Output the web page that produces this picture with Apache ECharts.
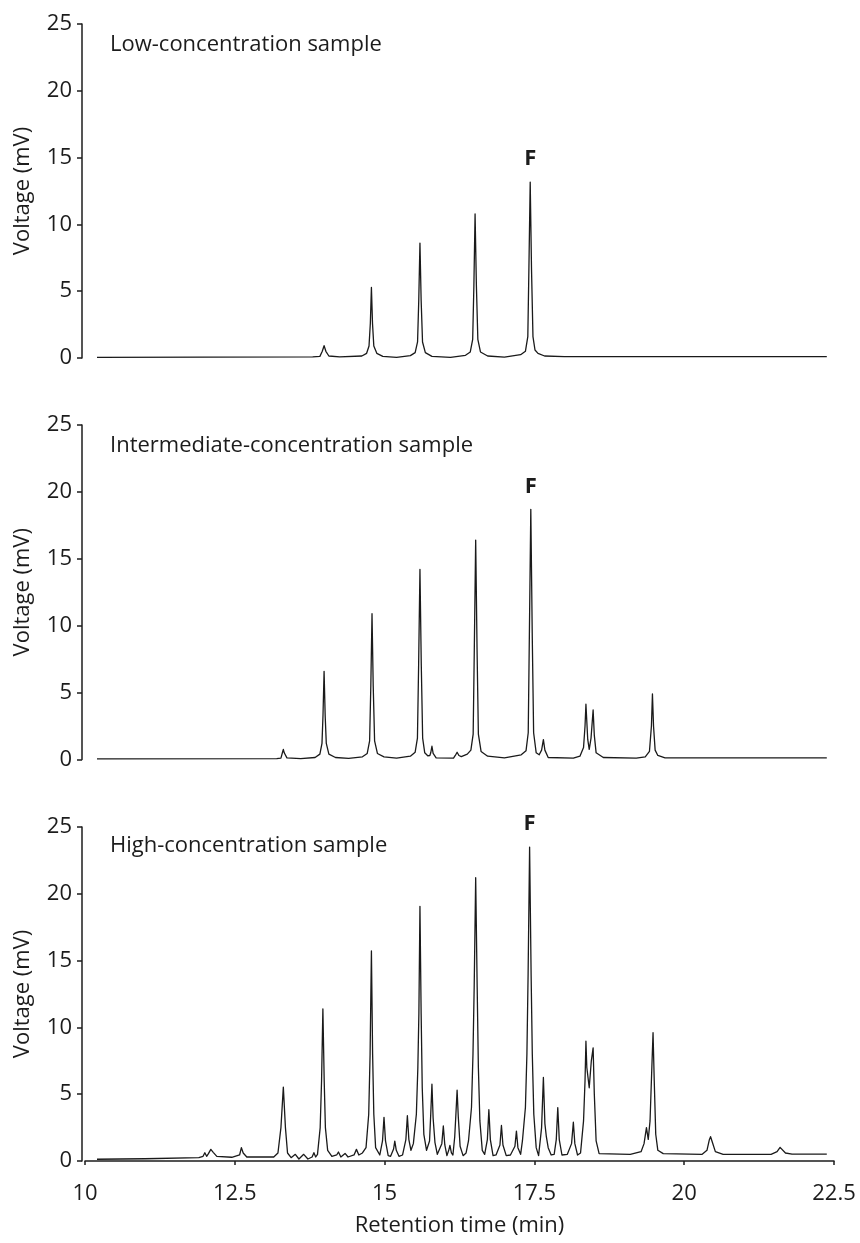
<!DOCTYPE html>
<html>
<head>
<meta charset="utf-8">
<script src="https://cdn.jsdelivr.net/npm/echarts@6/dist/echarts.min.js"></script>
<style>
  html, body { margin: 0; padding: 0; background: #fff; }
  #chart { width: 860px; height: 1243px; }
</style>
</head>
<body>
<div id="chart"></div>
<script>
// panel titles, top to bottom
const panelTitles = [
  'Low-concentration sample',
  'Intermediate-concentration sample',
  'High-concentration sample'
]

// chromatogram traces, [retention time (min), voltage (mV)]
const lowConc = [
  [10.2, 0.05], [12.0, 0.06], [13.8, 0.08],
  [13.92, 0.12], [13.96, 0.5], [13.99, 0.92], [14.02, 0.5], [14.07, 0.15], [14.25, 0.08],
  [14.62, 0.15], [14.7, 0.35], [14.74, 0.9], [14.762, 2.6], [14.78, 5.28], [14.798, 2.6], [14.82, 0.9], [14.87, 0.35], [14.97, 0.12], [15.2, 0.04],
  [15.43, 0.18], [15.51, 0.4], [15.55, 1.2], [15.57, 4.3], [15.59, 8.6], [15.61, 4.3], [15.633, 1.2], [15.68, 0.4], [15.79, 0.12], [16.1, 0.04],
  [16.35, 0.2], [16.43, 0.45], [16.47, 1.4], [16.49, 5.4], [16.51, 10.78], [16.532, 5.4], [16.556, 1.4], [16.6, 0.45], [16.72, 0.15], [17.0, 0.06],
  [17.27, 0.25], [17.35, 0.5], [17.39, 1.6], [17.408, 6.6], [17.43, 13.17], [17.452, 6.6], [17.476, 1.6], [17.51, 0.6], [17.56, 0.35], [17.67, 0.15],
  [18.0, 0.1], [20.0, 0.1], [22.38, 0.1]
]

const midConc = [
  [10.2, 0.05], [13.2, 0.07],
  [13.27, 0.1], [13.3, 0.6], [13.31, 0.75], [13.325, 0.5], [13.37, 0.12], [13.6, 0.07],
  [13.84, 0.15], [13.92, 0.4], [13.955, 1.2], [13.972, 3.3], [13.99, 6.59], [14.008, 3.3], [14.027, 1.2], [14.07, 0.4], [14.18, 0.15], [14.4, 0.08],
  [14.63, 0.2], [14.71, 0.45], [14.75, 1.4], [14.77, 5.5], [14.79, 10.9], [14.81, 5.5], [14.833, 1.4], [14.88, 0.45], [14.99, 0.2], [15.2, 0.1],
  [15.43, 0.25], [15.51, 0.55], [15.548, 1.6], [15.568, 7.1], [15.59, 14.2], [15.612, 7.1], [15.635, 1.6], [15.67, 0.5], [15.72, 0.28], [15.755, 0.3],
  [15.77, 0.5], [15.79, 0.99], [15.81, 0.45], [15.86, 0.12], [16.15, 0.1],
  [16.18, 0.3], [16.21, 0.54], [16.24, 0.3], [16.28, 0.22],
  [16.38, 0.4], [16.44, 0.7], [16.478, 1.9], [16.497, 8.2], [16.52, 16.4], [16.543, 8.2], [16.565, 1.9], [16.61, 0.6], [16.72, 0.25], [17.0, 0.12],
  [17.28, 0.35], [17.36, 0.65], [17.397, 2], [17.416, 9.3], [17.44, 18.7], [17.464, 9.3], [17.487, 2], [17.53, 0.5], [17.58, 0.35],
  [17.62, 0.7], [17.65, 1.49], [17.675, 0.7], [17.73, 0.15], [18.15, 0.1],
  [18.26, 0.25], [18.32, 0.9], [18.345, 2.5], [18.36, 4.13], [18.39, 1.5], [18.415, 0.75], [18.445, 1.6],
  [18.465, 2.8], [18.48, 3.7], [18.5, 1.8], [18.53, 0.5], [18.65, 0.15], [19.2, 0.1],
  [19.35, 0.2], [19.42, 0.6], [19.453, 2.5], [19.47, 4.9], [19.488, 2.5], [19.515, 0.7], [19.56, 0.3], [19.68, 0.12],
  [22.38, 0.12]
]

const highConc = [
  [10.2, 0.13], [11.0, 0.17], [11.9, 0.25],
  [11.97, 0.35], [12.0, 0.62], [12.03, 0.35], [12.06, 0.55], [12.1, 0.87], [12.14, 0.65], [12.2, 0.35], [12.45, 0.28],
  [12.58, 0.45], [12.61, 1.0], [12.62, 1.07], [12.64, 0.6], [12.7, 0.3], [13.15, 0.3],
  [13.22, 0.6], [13.27, 2.5], [13.31, 5.53], [13.345, 2.5], [13.38, 0.6], [13.44, 0.25],
  [13.51, 0.5], [13.57, 0.15], [13.65, 0.5], [13.72, 0.15], [13.79, 0.3], [13.82, 0.62], [13.85, 0.3],
  [13.88, 0.5], [13.925, 2.5], [13.948, 6], [13.97, 11.38], [13.992, 6], [14.012, 2.5], [14.05, 0.8], [14.12, 0.35],
  [14.2, 0.45], [14.23, 0.67], [14.27, 0.3], [14.34, 0.57], [14.39, 0.3], [14.49, 0.45], [14.53, 0.87], [14.57, 0.45],
  [14.63, 0.6], [14.69, 1.0], [14.735, 3.5], [14.758, 8], [14.78, 15.72], [14.8, 8], [14.82, 3.5], [14.85, 1.0], [14.92, 0.45],
  [14.965, 1.5], [14.99, 3.27], [15.015, 1.5], [15.06, 0.4], [15.1, 0.35],
  [15.15, 0.9], [15.17, 1.49], [15.195, 0.8], [15.24, 0.35], [15.3, 0.45],
  [15.355, 1.6], [15.38, 3.39], [15.405, 1.6], [15.44, 0.8],
  [15.48, 1.3], [15.53, 3.5], [15.555, 7], [15.572, 11], [15.59, 19.06], [15.61, 11], [15.628, 5.5], [15.655, 2], [15.7, 0.8],
  [15.75, 1.5], [15.77, 3.5], [15.79, 5.75], [15.81, 3.2], [15.84, 1.4], [15.88, 0.5], [15.91, 0.4],
  [15.955, 1.3], [15.98, 2.62], [16.005, 1.2], [16.04, 0.4],
  [16.07, 0.8], [16.09, 1.17], [16.115, 0.6], [16.14, 0.45],
  [16.17, 1.8], [16.19, 3.5], [16.21, 5.3], [16.23, 3.3], [16.26, 1.1], [16.31, 0.4], [16.36, 0.6],
  [16.4, 1.5], [16.45, 4], [16.475, 8], [16.495, 13], [16.52, 21.2], [16.545, 13], [16.565, 7], [16.59, 3], [16.63, 0.8], [16.67, 0.5],
  [16.715, 1.6], [16.74, 3.84], [16.765, 1.6], [16.81, 0.4], [16.86, 0.45],
  [16.925, 1.2], [16.95, 2.66], [16.975, 1.2], [17.03, 0.4], [17.1, 0.45],
  [17.175, 1.1], [17.2, 2.24], [17.225, 1.0], [17.27, 0.5],
  [17.3, 1.5], [17.35, 4], [17.375, 8], [17.395, 14], [17.42, 23.5], [17.445, 14], [17.465, 8], [17.49, 3.5], [17.53, 1], [17.57, 0.4],
  [17.62, 2.5], [17.65, 6.25], [17.675, 2.8], [17.7, 1.8], [17.73, 1.0], [17.78, 0.45], [17.83, 0.5],
  [17.865, 1.6], [17.89, 4.0], [17.915, 1.6], [17.96, 0.45], [18.05, 0.5],
  [18.12, 1.3], [18.15, 2.9], [18.175, 1.3], [18.22, 0.45], [18.27, 0.6],
  [18.32, 3], [18.345, 6], [18.36, 8.97], [18.375, 7], [18.415, 5.48], [18.45, 7.5], [18.48, 8.47], [18.5, 5],
  [18.53, 1.5], [18.58, 0.55], [19.1, 0.5],
  [19.28, 0.7], [19.33, 1.3], [19.37, 2.5], [19.4, 1.62], [19.43, 3], [19.46, 7], [19.48, 9.6], [19.5, 6],
  [19.525, 2], [19.56, 0.8], [19.65, 0.55], [20.3, 0.5],
  [20.38, 0.8], [20.42, 1.6], [20.44, 1.82], [20.47, 1.4], [20.52, 0.7], [20.65, 0.5], [21.45, 0.5],
  [21.55, 0.7], [21.6, 1.02], [21.63, 0.95], [21.69, 0.6], [21.8, 0.52], [22.38, 0.52]
]

// apex of the labelled peak F in each panel
const peakF = [[17.43, 13.17], [17.44, 18.7], [17.42, 23.5]]

const traces = [lowConc, midConc, highConc]

const font = '"Open Sans", sans-serif'
const ink = '#1c1c1c'

// grid boxes map 0..25 mV onto each panel
const grids = [
  { left: 85, right: 26, top: 24, height: 334 },
  { left: 85, right: 26, top: 425, height: 334.5 },
  { left: 85, right: 26, top: 827, height: 334 }
]
const titleY = [45, 446, 846]

const chart = echarts.init(document.getElementById('chart'))

const option = {
  animation: false,
  backgroundColor: '#fff',
  grid: grids,
  xAxis: grids.map((g, i) => ({
    gridIndex: i,
    type: 'value',
    min: 10,
    max: 22.5,
    interval: 2.5,
    show: i === 2,
    offset: 16,
    name: 'Retention time (min)',
    nameLocation: 'middle',
    nameGap: 38,
    nameTextStyle: { fontFamily: font, fontSize: 22, color: ink },
    axisLine: { show: true, lineStyle: { color: ink, width: 1.5 } },
    axisTick: { show: true, length: 4, lineStyle: { color: ink, width: 1.5 } },
    axisLabel: { fontFamily: font, fontSize: 22, color: ink, margin: 6 },
    splitLine: { show: false }
  })),
  yAxis: grids.map((g, i) => ({
    gridIndex: i,
    type: 'value',
    min: 0,
    max: 25,
    interval: 5,
    offset: 3,
    name: 'Voltage (mV)',
    nameLocation: 'middle',
    nameGap: 48,
    nameTextStyle: { fontFamily: font, fontSize: 22, color: ink },
    axisLine: { show: true, lineStyle: { color: ink, width: 1.5 } },
    axisTick: { show: true, length: 5, lineStyle: { color: ink, width: 1.5 } },
    axisLabel: { fontFamily: font, fontSize: 22, color: ink, margin: 10 },
    splitLine: { show: false }
  })),
  graphic: panelTitles.map((t, i) => ({
    type: 'text',
    x: 110,
    y: titleY[i],
    style: {
      text: t,
      font: '22px ' + font,
      fill: ink,
      verticalAlign: 'middle'
    }
  })),
  series: traces.map((data, i) => ({
    type: 'line',
    xAxisIndex: i,
    yAxisIndex: i,
    data: data,
    symbol: 'none',
    lineStyle: { color: '#1a1a1a', width: 1.3, join: 'round' },
    markPoint: {
      symbol: 'circle',
      symbolSize: 1,
      itemStyle: { color: 'rgba(0,0,0,0)' },
      label: {
        show: true,
        formatter: 'F',
        offset: [0, -23],
        fontFamily: font,
        fontWeight: 'bold',
        fontSize: 22,
        color: ink
      },
      data: [{ coord: peakF[i] }]
    }
  }))
}

chart.setOption(option)
</script>
</body>
</html>
